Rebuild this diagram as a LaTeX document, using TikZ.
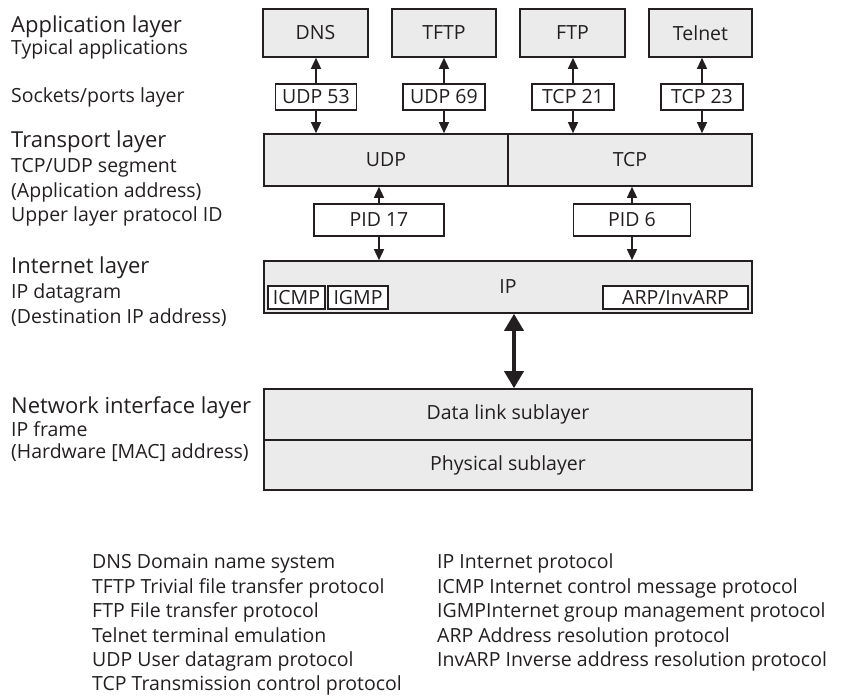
\documentclass[tikz,border=0pt]{standalone}
\usepackage{fontspec}
\setmainfont{Open Sans}
\usetikzlibrary{arrows.meta}
\definecolor{boxgray}{RGB}{235,235,235}
\definecolor{ink}{RGB}{35,31,32}

\begin{document}
\begin{tikzpicture}[x=1pt,y=-1pt,
  every node/.style={inner sep=0pt, text=ink},
  boxfont/.style={font=\fontsize{19.5}{23}\selectfont},
  gbox/.style={draw=ink, line width=1.6pt, fill=boxgray, boxfont},
  wbox/.style={draw=ink, line width=1.6pt, fill=white, boxfont},
  ibox/.style={draw=ink, line width=2.2pt, fill=white, boxfont, minimum height=23pt},
  bigtxt/.style={anchor=base west, font=\fontsize{22}{26}\selectfont},
  smalltxt/.style={anchor=base west, font=\fontsize{19.5}{23}\selectfont},
  legtxt/.style={anchor=base west, font=\fontsize{19.5}{23}\selectfont},
  link/.style={draw=ink, line width=1.4pt, -{Triangle[length=11pt,width=10pt]}},
  biglink/.style={draw=ink, line width=3.6pt, {Triangle[length=17pt,width=19pt]}-{Triangle[length=17pt,width=19pt]}}
]
\useasboundingbox (0,0) rectangle (843,699);

% layer captions on the left
\node[bigtxt]   (capapp)  at (11,32)  {Application layer};
\node[smalltxt] (captyp)  at (11,54)  {Typical applications};
\node[smalltxt] (capsock) at (11,102) {Sockets/ports layer};
\node[bigtxt]   (captrn)  at (11,147) {Transport layer};
\node[smalltxt] (capseg)  at (11,172) {TCP/UDP segment};
\node[smalltxt] (capaddr) at (11,197) {(Application address)};
\node[smalltxt] (cappid)  at (11,221) {Upper layer pratocol ID};
\node[bigtxt]   (capint)  at (11,273) {Internet layer};
\node[smalltxt] (capdg)   at (11,298) {IP datagram};
\node[smalltxt] (capdst)  at (11,323) {(Destination IP address)};
\node[bigtxt]   (capnet)  at (11,413) {Network interface layer};
\node[smalltxt] (capfrm)  at (11,436) {IP frame};
\node[smalltxt] (caphw)   at (11,458) {(Hardware [MAC] address)};

% application boxes
\node[gbox, minimum width=105pt, minimum height=48pt] (dns)    at (315.5,33) {DNS};
\node[gbox, minimum width=104pt, minimum height=48pt] (tftp)   at (444,33)   {TFTP};
\node[gbox, minimum width=105pt, minimum height=48pt] (ftp)    at (572.5,33) {FTP};
\node[gbox, minimum width=103pt, minimum height=48pt] (telnet) at (700.5,33) {Telnet};

% port boxes
\node[wbox, minimum width=81pt, minimum height=26pt] (p53) at (316,97) {UDP 53};
\node[wbox, minimum width=82pt, minimum height=26pt] (p69) at (444,97) {UDP 69};
\node[wbox, minimum width=82pt, minimum height=26pt] (p21) at (573,97) {TCP 21};
\node[wbox, minimum width=82pt, minimum height=26pt] (p23) at (702,97) {TCP 23};

% transport layer
\node[gbox, minimum width=244pt, minimum height=52pt] (udp) at (386,160) {UDP};
\node[gbox, minimum width=244pt, minimum height=52pt] (tcp) at (630,160) {TCP};

% protocol ID boxes
\node[wbox, minimum width=130pt, minimum height=32pt] (pid17) at (379,220) {PID 17};
\node[wbox, minimum width=117pt, minimum height=32pt] (pid6)  at (632,220) {PID 6};

% internet layer
\node[gbox, minimum width=488pt, minimum height=52pt] (ip) at (508,287) {IP};
\node[ibox, minimum width=57pt]  (icmp) at (296.5,297.5) {ICMP};
\node[ibox, minimum width=60pt]  (igmp) at (358,297.5)   {IGMP};
\node[ibox, minimum width=145pt] (arp)  at (675.5,297.5) {ARP/InvARP};

% network interface layer
\node[gbox, minimum width=488pt, minimum height=51pt] (dl)  at (508,414.5) {Data link sublayer};
\node[gbox, minimum width=488pt, minimum height=50pt] (phy) at (508,465)   {Physical sublayer};

% connectors: ports
\foreach \a/\p/\t in {dns/p53/udp, tftp/p69/udp, ftp/p21/tcp, telnet/p23/tcp}{
  \draw[link] (\p.north) -- (\p.north |- \a.south);
  \draw[link] (\p.south) -- (\p.south |- \t.north);
}
% connectors: protocol IDs
\draw[link] (pid17.north) -- (pid17.north |- udp.south);
\draw[link] (pid17.south) -- (pid17.south |- ip.north);
\draw[link] (pid6.north) -- (pid6.north |- tcp.south);
\draw[link] (pid6.south) -- (pid6.south |- ip.north);

% IP <-> network interface
\coordinate (ipx) at (514,0);
\draw[biglink] (ipx |- ip.south) -- (ipx |- dl.north);

% abbreviations
\node[legtxt] (l1) at (92,568) {DNS Domain name system};
\node[legtxt] (l2) at (92,593) {TFTP Trivial file transfer protocol};
\node[legtxt] (l3) at (92,617) {FTP File transfer protocol};
\node[legtxt] (l4) at (92,642) {Telnet terminal emulation};
\node[legtxt] (l5) at (92,666) {UDP User datagram protocol};
\node[legtxt] (l6) at (92,690) {TCP Transmission control protocol};
\node[legtxt] (r1) at (437,568) {IP Internet protocol};
\node[legtxt] (r2) at (437,593) {ICMP Internet control message protocol};
\node[legtxt] (r3) at (437,617) {IGMPInternet group management protocol};
\node[legtxt] (r4) at (437,642) {ARP Address resolution protocol};
\node[legtxt] (r5) at (437,666) {InvARP Inverse address resolution protocol};
\end{tikzpicture}
\end{document}
